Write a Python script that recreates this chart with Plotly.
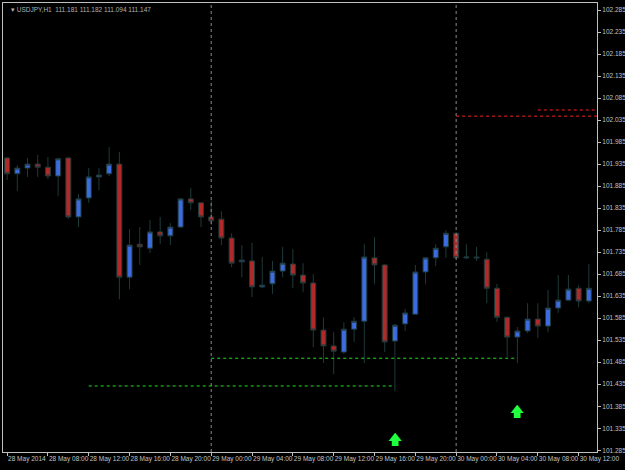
import plotly.graph_objects as go
import pandas as pd

# USDJPY H1, 28 May 2014 04:00 .. 30 May 2014 13:00
times = pd.date_range("2014-05-28 04:00", periods=58, freq="h")
opens = [101.949, 101.913, 101.926, 101.935, 101.928, 101.908, 101.949, 101.815, 101.858, 101.906,
         101.913, 101.935, 101.678, 101.753, 101.744, 101.781, 101.772, 101.792, 101.856, 101.847,
         101.815, 101.810, 101.767, 101.713, 101.715, 101.656, 101.663, 101.692, 101.708, 101.683,
         101.665, 101.558, 101.522, 101.508, 101.560, 101.578, 101.722, 101.706, 101.533, 101.572,
         101.594, 101.690, 101.722, 101.747, 101.778, 101.722, 101.724, 101.719, 101.653, 101.587,
         101.542, 101.556, 101.583, 101.567, 101.608, 101.626, 101.653, 101.624]
highs = [101.951, 101.933, 101.949, 101.956, 101.951, 101.949, 101.950, 101.867, 101.926, 101.926,
         101.974, 101.963, 101.787, 101.792, 101.808, 101.815, 101.801, 101.858, 101.881, 101.849,
         101.853, 101.828, 101.778, 101.751, 101.756, 101.724, 101.715, 101.747, 101.742, 101.710,
         101.685, 101.587, 101.553, 101.576, 101.587, 101.753, 101.769, 101.708, 101.572, 101.606,
         101.706, 101.724, 101.753, 101.785, 101.780, 101.753, 101.747, 101.735, 101.663, 101.589,
         101.565, 101.619, 101.619, 101.649, 101.683, 101.683, 101.660, 101.708]
lows = [101.899, 101.874, 101.906, 101.906, 101.901, 101.863, 101.810, 101.792, 101.847, 101.876,
        101.908, 101.628, 101.651, 101.706, 101.733, 101.753, 101.751, 101.790, 101.831, 101.792,
        101.797, 101.751, 101.701, 101.678, 101.633, 101.653, 101.640, 101.678, 101.653, 101.644,
        101.519, 101.483, 101.458, 101.503, 101.531, 101.483, 101.663, 101.508, 101.419, 101.556,
        101.593, 101.663, 101.703, 101.722, 101.721, 101.719, 101.715, 101.619, 101.576, 101.497,
        101.483, 101.551, 101.540, 101.553, 101.597, 101.625, 101.610, 101.619]
closes = [101.913, 101.926, 101.935, 101.928, 101.908, 101.947, 101.815, 101.856, 101.906, 101.910,
          101.935, 101.678, 101.751, 101.747, 101.781, 101.772, 101.792, 101.856, 101.847, 101.815,
          101.806, 101.767, 101.710, 101.717, 101.656, 101.660, 101.692, 101.710, 101.683, 101.665,
          101.558, 101.522, 101.510, 101.560, 101.578, 101.724, 101.706, 101.531, 101.569, 101.597,
          101.690, 101.722, 101.744, 101.778, 101.722, 101.724, 101.722, 101.653, 101.587, 101.542,
          101.556, 101.583, 101.567, 101.608, 101.626, 101.651, 101.624, 101.653]

tick_times = pd.date_range("2014-05-28 04:00", "2014-05-30 12:00", freq="4h")
tick_text = ["28 May 2014"] + [t.strftime("%d May %H:%M") for t in tick_times[1:]]
price_ticks = [round(101.285 + 0.05 * k, 3) for k in range(21)]

day_lines = ["2014-05-29 00:00", "2014-05-30 00:00"]
red_levels = [("2014-05-30 00:00", "2014-05-30 13:48", 102.044), ("2014-05-30 08:00", "2014-05-30 13:48", 102.058)]
green_levels = [("2014-05-28 12:00", "2014-05-29 18:00", 101.431), ("2014-05-29 00:00", "2014-05-30 06:00", 101.494)]
arrow_times = ["2014-05-29 18:00", "2014-05-30 06:00"]
arrow_prices = [101.308, 101.370]

fig = go.Figure()
fig.add_trace(go.Candlestick(
    x=times, open=opens, high=highs, low=lows, close=closes,
    increasing=dict(fillcolor="#3C6CE0", line=dict(color="#1F3A3A", width=1)),
    decreasing=dict(fillcolor="#B02A2A", line=dict(color="#1F3A3A", width=1)),
    whiskerwidth=0, showlegend=False, hoverinfo="skip",
))

for d in day_lines:
    fig.add_shape(type="line", x0=d, x1=d, y0=0, y1=1, yref="paper",
                  line=dict(color="#8a8a8a", width=1, dash="dot"))
for x0, x1, y in red_levels:
    fig.add_shape(type="line", x0=x0, x1=x1, y0=y, y1=y, line=dict(color="#FF2020", width=1, dash="dot"))
for x0, x1, y in green_levels:
    fig.add_shape(type="line", x0=x0, x1=x1, y0=y, y1=y, line=dict(color="#20E020", width=1, dash="dot"))

fig.add_trace(go.Scatter(x=arrow_times, y=arrow_prices, mode="text", text=["🡅", "🡅"],
                         textfont=dict(color="#20FF40", size=14, family="DejaVu Sans"),
                         showlegend=False, hoverinfo="skip"))

fig.add_annotation(x=0.01, y=0.997, xref="paper", yref="paper", xanchor="left", yanchor="top",
                   text="▾ USDJPY,H1  111.181 111.182 111.094 111.147", showarrow=False,
                   font=dict(color="#b0b0b0", size=6.5, family="Liberation Sans"))

axis_font = dict(color="#c0c0c0", size=6.5, family="Liberation Sans")
fig.update_layout(
    width=625, height=470,
    margin=dict(l=3, r=28, t=3, b=18),
    paper_bgcolor="black", plot_bgcolor="black",
    xaxis=dict(rangeslider=dict(visible=False), range=["2014-05-28 03:36", "2014-05-30 13:48"],
               tickvals=tick_times, ticktext=tick_text, ticklabelposition="outside right",
               tickangle=0, automargin=False,
               ticks="outside", ticklen=3, tickcolor="#c0c0c0", showgrid=False, zeroline=False,
               showline=True, linecolor="#c0c0c0", mirror=True, tickfont=axis_font),
    yaxis=dict(side="right", range=[101.281, 102.301], tickvals=price_ticks, automargin=False,
               tickformat=".3f", ticks="outside", ticklen=3, tickcolor="#c0c0c0",
               showgrid=False, zeroline=False, showline=True, linecolor="#c0c0c0", mirror=True,
               tickfont=axis_font),
)

fig.write_html("out.html", config={"displayModeBar": False},
               post_script="document.body.style.margin='0';")
